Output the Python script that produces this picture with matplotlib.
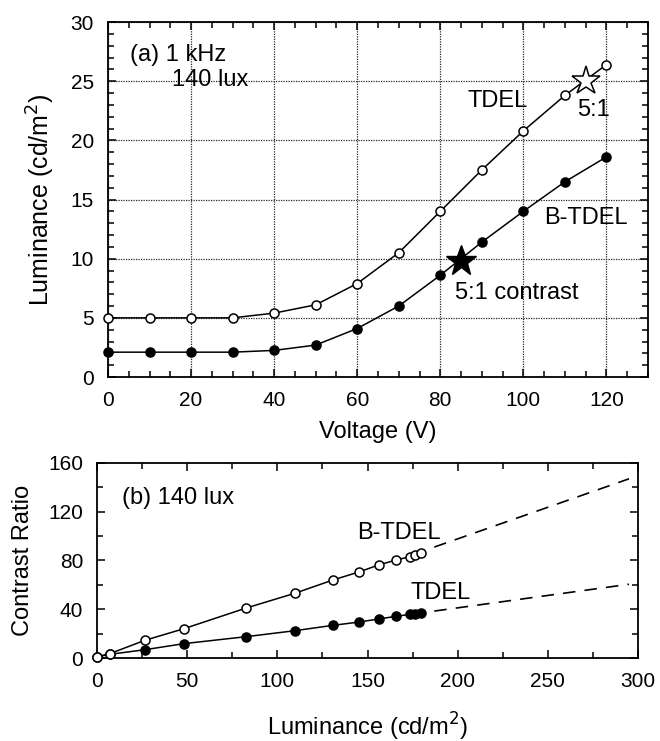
''' Luminance vs voltage and contrast ratio vs luminance for TDEL / B-TDEL '''
import matplotlib.pyplot as plt
import numpy as np
from matplotlib.ticker import MultipleLocator

plt.rcParams['font.family'] = ['Liberation Sans', 'DejaVu Sans']

# (a) luminance vs voltage, 1 kHz, 140 lux
voltage = [0, 10, 20, 30, 40, 50, 60, 70, 80, 90, 100, 110, 120]
lum_tdel = [5.0, 5.0, 5.0, 5.0, 5.4, 6.1, 7.9, 10.5, 14.0, 17.5, 20.8, 23.8, 26.4]
lum_btdel = [2.1, 2.1, 2.1, 2.1, 2.25, 2.7, 4.1, 6.0, 8.6, 11.4, 14.0, 16.5, 18.6]
star_open = (115, 25.0)     # 5:1 on TDEL
star_filled = (85, 9.8)     # 5:1 contrast on B-TDEL

# (b) contrast ratio vs luminance, 140 lux
lum_b = [0, 7, 26.5, 48.3, 82.7, 109.7, 130.8, 145.3, 156.1, 165.9, 173.4, 176.5, 179.5]
cr_btdel = [1, 3.5, 14.5, 24.1, 41.0, 53.1, 64.0, 70.6, 76.3, 80.4, 83.1, 84.2, 85.9]
cr_tdel = [1, 3.0, 6.8, 11.8, 17.5, 22.4, 26.8, 29.5, 32.0, 34.2, 35.8, 36.1, 36.6]
# dashed extrapolations
ext_x = [187, 295]
ext_btdel = [91, 147]
ext_tdel = [38.5, 60.5]

fig = plt.figure(figsize=(6.6, 7.41), dpi=100)
ax1 = fig.add_axes([0.1636, 0.4912, 0.8182, 0.4791])
ax2 = fig.add_axes([0.147, 0.112, 0.8197, 0.2632])

fs = 15     # tick labels
fl = 17     # axis labels and annotations
ms = 6.5
lw = 1.1

for ax in (ax1, ax2):
    ax.tick_params(which='both', direction='in', top=True, right=True,
                   labelsize=fs, width=1.1, pad=10)
    ax.tick_params(which='major', length=6)
    ax.tick_params(which='minor', length=4)
    for s in ax.spines.values():
        s.set_linewidth(1.3)

# ---- (a)
ax1.plot(voltage, lum_tdel, '-o', color='k', lw=lw, ms=ms, mfc='white', mew=1.1,
         zorder=3, clip_on=False)
ax1.plot(voltage, lum_btdel, '-o', color='k', lw=lw, ms=ms, mfc='black', mew=1.1,
         zorder=3, clip_on=False)
ax1.plot(*star_open, marker='*', ms=21, mfc='white', mec='k', mew=1.1, zorder=4)
ax1.plot(*star_filled, marker='*', ms=23, mfc='black', mec='k', zorder=4)
ax1.set_xlim(0, 130)
ax1.set_ylim(0, 30)
ax1.xaxis.set_major_locator(MultipleLocator(20))
ax1.xaxis.set_minor_locator(MultipleLocator(5))
ax1.yaxis.set_major_locator(MultipleLocator(5))
ax1.yaxis.set_minor_locator(MultipleLocator(1))
ax1.grid(True, which='major', color='0.15', ls=(0, (1, 1)), lw=0.9)
ax1.set_axisbelow(True)
ax1.set_xlabel('Voltage (V)', fontsize=fl, labelpad=8)
ax1.set_ylabel('Luminance (cd/m$^2$)', fontsize=fl + 1, labelpad=10)
ax1.text(5.3, 27.2, '(a) 1 kHz', fontsize=fl, va='center')
ax1.text(15.5, 25.1, '140 lux', fontsize=fl, va='center')
ax1.text(86.5, 23.3, 'TDEL', fontsize=fl, va='center')
ax1.text(113, 22.6, '5:1', fontsize=fl, va='center')
ax1.text(105, 13.4, 'B-TDEL', fontsize=fl, va='center')
ax1.text(83.5, 7.1, '5:1 contrast', fontsize=fl, va='center')

# ---- (b)
ax2.plot(lum_b, cr_tdel, '-o', color='k', lw=lw, ms=ms, mfc='black', mew=1.1,
         zorder=3, clip_on=False)
ax2.plot(lum_b, cr_btdel, '-o', color='k', lw=lw, ms=ms, mfc='white', mew=1.1,
         zorder=4, clip_on=False)
ax2.plot(ext_x, ext_btdel, color='k', lw=1.2, ls=(0, (7.5, 5.5)))
ax2.plot(ext_x, ext_tdel, color='k', lw=1.2, ls=(0, (7.5, 5.5)))
ax2.set_xlim(0, 300)
ax2.set_ylim(0, 160)
ax2.xaxis.set_major_locator(MultipleLocator(50))
ax2.xaxis.set_minor_locator(MultipleLocator(25))
ax2.yaxis.set_major_locator(MultipleLocator(40))
ax2.yaxis.set_minor_locator(MultipleLocator(20))
ax2.set_xlabel('Luminance (cd/m$^2$)', fontsize=fl, labelpad=14)
ax2.set_ylabel('Contrast Ratio', fontsize=fl, labelpad=10)
ax2.text(13.6, 131, '(b) 140 lux', fontsize=fl, va='center')
ax2.text(144.5, 102.6, 'B-TDEL', fontsize=fl, va='center')
ax2.text(174, 53.3, 'TDEL', fontsize=fl, va='center')

fig.savefig('out.png', dpi=100)
